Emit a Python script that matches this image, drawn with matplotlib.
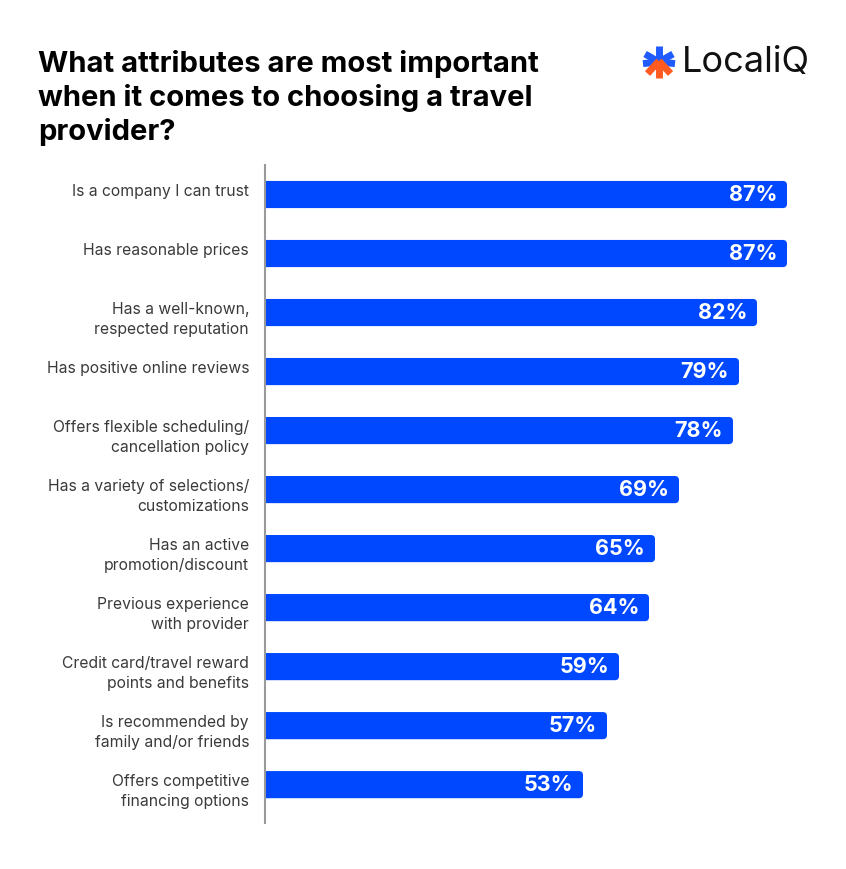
import matplotlib
matplotlib.use("Agg")
import matplotlib.pyplot as plt
from matplotlib.patches import FancyBboxPatch
from matplotlib.lines import Line2D

plt.rcParams['font.family'] = ['Inter', 'DejaVu Sans']

# data
labels = [
    "Is a company I can trust",
    "Has reasonable prices",
    "Has a well-known,\nrespected reputation",
    "Has positive online reviews",
    "Offers flexible scheduling/\ncancellation policy",
    "Has a variety of selections/\ncustomizations",
    "Has an active\npromotion/discount",
    "Previous experience\nwith provider",
    "Credit card/travel reward\npoints and benefits",
    "Is recommended by\nfamily and/or friends",
    "Offers competitive\nfinancing options",
]
values = [87, 87, 82, 79, 78, 69, 65, 64, 59, 57, 53]
title = "What attributes are most important\nwhen it comes to choosing a travel\nprovider?"

BLUE = '#0048FF'
W, H = 846, 869

fig = plt.figure(figsize=(W / 100, H / 100), dpi=100)
ax = fig.add_axes([265 / W, 1 - 823 / H, (W - 265) / W, (823 - 165) / H])
ax.set_xlim(0, (W - 265) / 6)
ax.set_ylim(len(values) - 1 + 0.65, -0.5)

ypos = list(range(len(values)))
bars = ax.barh(ypos, values, height=0.46, color=BLUE)
# swap plain rectangles for ones with rounded corners
for b in bars:
    x0, y0, w, h = b.get_x(), b.get_y(), b.get_width(), b.get_height()
    b.remove()
    p = FancyBboxPatch((x0 - 2, y0), w + 2, h,
                       boxstyle="round,pad=0,rounding_size=0.7",
                       mutation_aspect=0.1, fc=BLUE, ec='none', clip_on=True)
    ax.add_patch(p)

for i, (lab, v) in enumerate(zip(labels, values)):
    ax.annotate(lab, xy=(0, i), xytext=(-16, 11), textcoords='offset pixels',
                ha='right', va='top', fontsize=11.3, color='#3a3a3a',
                linespacing=1.42, annotation_clip=False)
    ax.annotate(f"{v}%", xy=(v, i), xytext=(-10, 0), textcoords='offset pixels',
                ha='right', va='center', fontsize=15.5, fontweight='bold',
                color='white')

for s in ['top', 'right', 'bottom']:
    ax.spines[s].set_visible(False)
ax.spines['left'].set_color('#9a9a9a')
ax.spines['left'].set_linewidth(1.5)
ax.set_xticks([])
ax.set_yticks([])

fig.text(38 / W, 1 - 50 / H, title, ha='left', va='top', fontsize=21,
         fontweight='bold', color='black', linespacing=1.28)

# logo
def fx(x):
    return x / W


def fy(y):
    return 1 - y / H


cx, cy, r = 659, 62, 16
blue_spokes = [(0, -1), (-0.87, -0.5), (0.87, -0.5), (-1, 0.1), (1, 0.1)]
orange_spokes = [(0, 1), (-0.72, 0.72), (0.72, 0.72)]
for dx, dy in blue_spokes:
    fig.add_artist(Line2D([fx(cx), fx(cx + dx * r)], [fy(cy), fy(cy + dy * r)],
                          transform=fig.transFigure, color='#1F5BFF', lw=5,
                          solid_capstyle='butt'))
for dx, dy in orange_spokes:
    fig.add_artist(Line2D([fx(cx), fx(cx + dx * r)], [fy(cy - 1), fy(cy + dy * r)],
                          transform=fig.transFigure, color='#FF5A1F', lw=5,
                          solid_capstyle='butt'))
fig.text(fx(682), fy(63), "LocaliQ", ha='left', va='center', fontsize=26,
         color='#111111')

fig.savefig("out.png", dpi=100, facecolor='white')
